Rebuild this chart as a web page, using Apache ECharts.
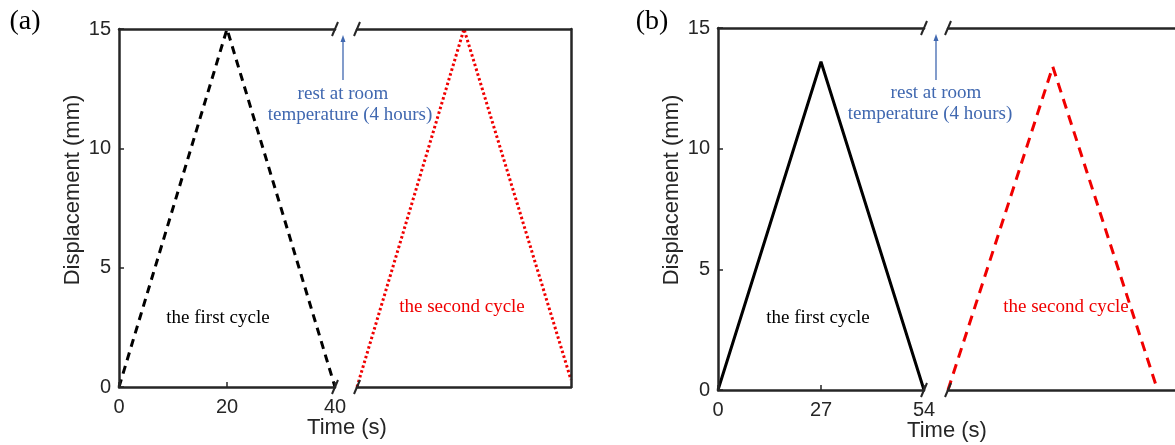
<!DOCTYPE html>
<html>
<head>
<meta charset="utf-8">
<script src="https://cdn.jsdelivr.net/npm/echarts@6/dist/echarts.min.js"></script>
<style>
  html, body { margin: 0; padding: 0; background: #fff; }
  #chart { width: 1175px; height: 445px; }
</style>
</head>
<body>
<div id="chart"></div>
<script>
// Loading cycles: displacement (mm) against time (s)
// (a) first and second cycle, 40 s each
const timeA = [0, 20, 40];
const firstA = [0, 15, 0];
const secondA = [0, 15, 0.3];
const ticksA = [0, 20, 40];

// (b) first and second cycle, 54 s each
const timeB = [0, 27, 54];
const firstB = [0, 13.6, 0];
const secondB = [0, 13.4, 0];
const ticksB = [0, 27, 54];

const dispTicks = [0, 5, 10, 15];

const AXIS = '#262626';
const RED = '#f00000';
const BLUE = '#4068b0';
const SANS = 'Liberation Sans, Arial, sans-serif';
const SERIF = 'Liberation Serif, Times New Roman, serif';

// grid boxes: left part of each panel before the break, right part after it
const G = {
  aL: { left: 119, top: 29, width: 216, height: 358 },
  aR: { left: 357, top: 29, width: 214, height: 358 },
  bL: { left: 718, top: 28, width: 206, height: 362 },
  bR: { left: 948, top: 28, width: 227, height: 362 }
};

function zip(xs, ys) { return xs.map((x, i) => [x, ys[i]]); }

function bottomAxis(grid, max, ticks, showLabels) {
  return {
    type: 'value', gridIndex: grid, position: 'bottom', min: 0, max: max,
    interval: ticks.length > 1 ? ticks[1] - ticks[0] : max,
    splitLine: { show: false },
    axisLine: { show: true, onZero: false, lineStyle: { color: AXIS, width: 2.5 } },
    axisTick: { show: showLabels, inside: true, length: 5, lineStyle: { color: AXIS, width: 1.5 } },
    axisLabel: { show: showLabels, color: AXIS, fontFamily: SANS, fontSize: 20, margin: 10,
      showMinLabel: true, showMaxLabel: true },
    z: 5
  };
}
function topAxis(grid, max) {
  return {
    type: 'value', gridIndex: grid, position: 'top', min: 0, max: max,
    splitLine: { show: false },
    axisLine: { show: true, onZero: false, lineStyle: { color: AXIS, width: 2.5 } },
    axisTick: { show: false }, axisLabel: { show: false }, z: 5
  };
}
function leftAxis(grid) {
  return {
    type: 'value', gridIndex: grid, position: 'left', min: 0, max: 15, interval: 5,
    splitLine: { show: false },
    axisLine: { show: true, onZero: false, lineStyle: { color: AXIS, width: 2.5 } },
    axisTick: { show: true, inside: true, length: 5, lineStyle: { color: AXIS, width: 1.5 } },
    axisLabel: { show: true, color: AXIS, fontFamily: SANS, fontSize: 20, margin: 8,
      formatter: v => dispTicks.includes(v) ? String(v) : '' },
    z: 5
  };
}
function rightAxis(grid, visible) {
  return {
    type: 'value', gridIndex: grid, position: 'right', min: 0, max: 15, interval: 5,
    splitLine: { show: false },
    axisLine: { show: visible, onZero: false, lineStyle: { color: AXIS, width: 2.5 } },
    axisTick: { show: false }, axisLabel: { show: false }, z: 5
  };
}
function lineSeries(xi, yi, data, color, width, dash) {
  return {
    type: 'line', xAxisIndex: xi, yAxisIndex: yi, data: data,
    symbol: 'none', silent: true, animation: false, z: 3,
    lineStyle: { color: color, width: width, type: dash, cap: 'butt' }
  };
}

// slanted break marks drawn across an axis line
function breakMark(x, y) {
  return { type: 'line', silent: true, z: 20,
    shape: { x1: x - 3, y1: y + 7, x2: x + 3, y2: y - 7 },
    style: { stroke: AXIS, lineWidth: 2 } };
}
function text(str, x, y, color, size, family, rotation) {
  return { type: 'text', silent: true, z: 20, x: x, y: y, rotation: rotation || 0,
    style: { text: str, fill: color, font: size + 'px ' + family, align: 'center', verticalAlign: 'middle' } };
}
function arrow(x, yFrom, yTo) {
  return [
    { type: 'line', silent: true, z: 20, shape: { x1: x, y1: yFrom, x2: x, y2: yTo + 6 },
      style: { stroke: BLUE, lineWidth: 1.3 } },
    { type: 'polygon', silent: true, z: 20,
      shape: { points: [[x, yTo], [x - 2.5, yTo + 7], [x + 2.5, yTo + 7]] },
      style: { fill: BLUE } }
  ];
}

const aBot = G.aL.top + G.aL.height, aTop = G.aL.top;
const bBot = G.bL.top + G.bL.height, bTop = G.bL.top;
const aBreak1 = G.aL.left + G.aL.width, aBreak2 = G.aR.left;
const bBreak1 = G.bL.left + G.bL.width, bBreak2 = G.bR.left;

const option = {
  animation: false,
  backgroundColor: '#fff',
  grid: [
    Object.assign({}, G.aL),
    Object.assign({}, G.aR),
    Object.assign({}, G.bL),
    Object.assign({}, G.bR)
  ],
  xAxis: [
    bottomAxis(0, 40, ticksA, true), topAxis(0, 40),
    bottomAxis(1, 40, [0], false), topAxis(1, 40),
    bottomAxis(2, 54, ticksB, true), topAxis(2, 54),
    bottomAxis(3, 58.5, [0], false), topAxis(3, 58.5)
  ],
  yAxis: [leftAxis(0), rightAxis(1, true), leftAxis(2), rightAxis(3, false)],
  series: [
    lineSeries(0, 0, zip(timeA, firstA), '#000', 3, [8, 6]),
    lineSeries(2, 1, zip(timeA, secondA), RED, 3, [2.5, 2.5]),
    lineSeries(4, 2, zip(timeB, firstB), '#000', 3, 'solid'),
    lineSeries(6, 3, zip(timeB, secondB), RED, 3, [10, 7])
  ],
  graphic: [
    text('(a)', 25, 22, '#000', 28, SERIF),
    text('(b)', 652, 22, '#000', 28, SERIF),
    breakMark(aBreak1, aTop), breakMark(aBreak2, aTop),
    breakMark(aBreak1, aBot), breakMark(aBreak2, aBot),
    breakMark(bBreak1, bTop), breakMark(bBreak2, bTop),
    breakMark(bBreak1, bBot), breakMark(bBreak2, bBot),
    ...arrow(343, 80, 35),
    ...arrow(936, 80, 34),
    text('rest at room', 343, 94, BLUE, 19, SERIF),
    text('temperature (4 hours)', 350, 115, BLUE, 19, SERIF),
    text('rest at room', 936, 93, BLUE, 19, SERIF),
    text('temperature (4 hours)', 930, 114, BLUE, 19, SERIF),
    text('the first cycle', 218, 318, '#000', 19, SERIF),
    text('the second cycle', 462, 307, RED, 19, SERIF),
    text('the first cycle', 818, 318, '#000', 19, SERIF),
    text('the second cycle', 1066, 307, RED, 19, SERIF),
    text('Displacement (mm)', 73, 190, AXIS, 22, SANS, Math.PI / 2),
    text('Displacement (mm)', 672, 190, AXIS, 22, SANS, Math.PI / 2),
    text('Time (s)', 347, 428, AXIS, 22, SANS),
    text('Time (s)', 947, 431, AXIS, 22, SANS)
  ]
};

const chart = echarts.init(document.getElementById('chart'), null, { renderer: 'canvas' });
chart.setOption(option);
</script>
</body>
</html>
